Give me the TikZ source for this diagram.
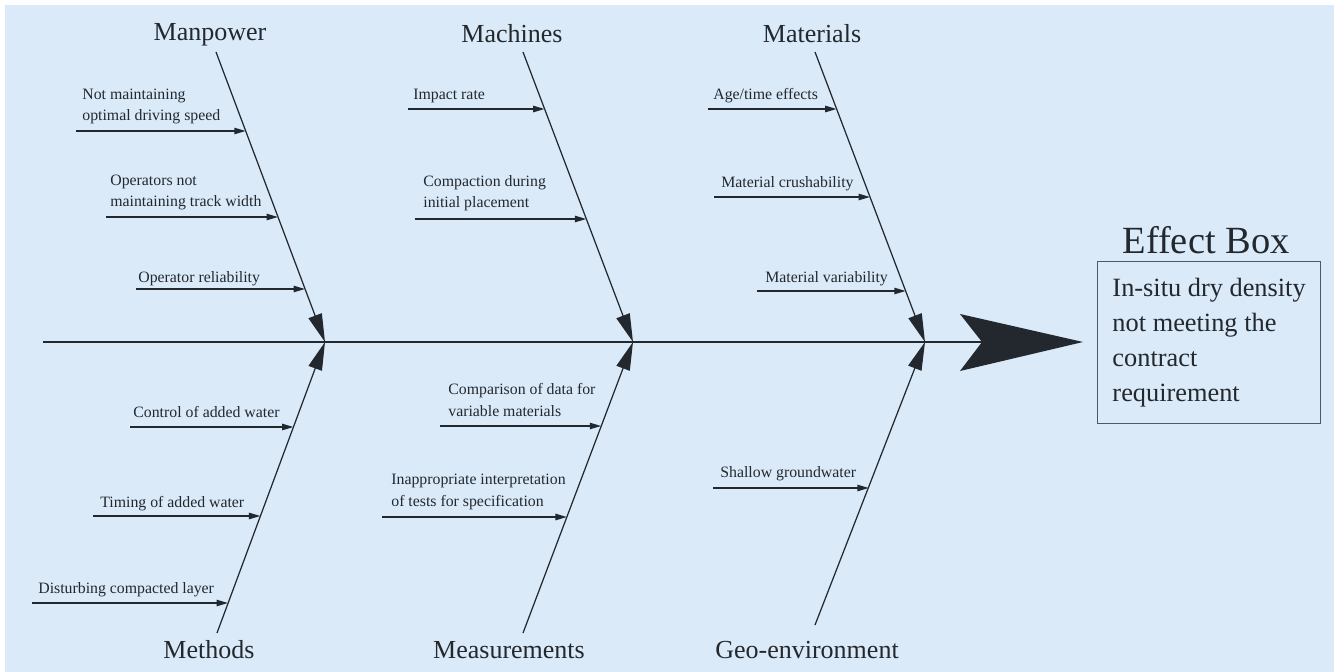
\documentclass[tikz,border=0pt]{standalone}
\usepackage{fontspec}
\setmainfont{Liberation Serif}
\usetikzlibrary{arrows.meta}
\definecolor{bgblue}{RGB}{218,234,248}
\definecolor{ink}{RGB}{35,40,46}
\definecolor{frame}{RGB}{80,88,96}

\begin{document}
\begin{tikzpicture}[x=0.02cm,y=-0.02cm,
  bone/.style={draw=ink, line width=0.7pt, -{Triangle[length=16pt,width=8pt]}},
  cause/.style={draw=ink, line width=0.85pt, -{Triangle[length=6.5pt,width=3.6pt]}},
  spine/.style={draw=ink, line width=0.75pt},
  catlabel/.style={font=\fontsize{14.8}{17}\selectfont, text=ink, anchor=base, inner sep=0pt},
  causetext/.style={font=\fontsize{9}{12}\selectfont, text=ink, anchor=base west, align=left, inner sep=0pt},
]
% canvas
\fill[white] (0,0) rectangle (1334,672);
\fill[bgblue] (5,5) rectangle (1334,672);
\useasboundingbox (0,0) rectangle (1334,672);

% spine and head arrow
\coordinate (spineStart) at (43,342);
\coordinate (notch) at (982,342);
\coordinate (headTop) at (960,314);
\coordinate (headTip) at (1083,342);
\coordinate (headBot) at (960,371);
\draw[spine] (spineStart) -- (notch);
\fill[ink] (headTop) -- (headTip) -- (headBot) -- (notch) -- cycle;

% junctions on the spine
\coordinate (J1) at (325,342);
\coordinate (J2) at (633,342);
\coordinate (J3) at (925,342);

% category bones
\coordinate (mpTop) at (216,52);
\coordinate (maTop) at (523,52);
\coordinate (mtTop) at (815,52);
\coordinate (meBot) at (217,633);
\coordinate (msBot) at (523,633);
\coordinate (geBot) at (815,625);
\draw[bone] (mpTop) -- (J1);
\draw[bone] (meBot) -- (J1);
\draw[bone] (maTop) -- (J2);
\draw[bone] (msBot) -- (J2);
\draw[bone] (mtTop) -- (J3);
\draw[bone] (geBot) -- (J3);

% category labels
\node[catlabel] (manpower) at (210,41) {Manpower};
\node[catlabel] (machines) at (512,43) {Machines};
\node[catlabel] (materials) at (812,43) {Materials};
\node[catlabel] (methods) at (209,658) {Methods};
\node[catlabel] (measurements) at (509,658) {Measurements};
\node[catlabel] (geoenv) at (807,658) {Geo-environment};

% Manpower causes (two-line labels are placed by their last baseline)
\coordinate (mp1s) at (76,131);   \coordinate (mp1e) at (245.7,131);
\coordinate (mp2s) at (106,217);  \coordinate (mp2e) at (278,217);
\coordinate (mp3s) at (136,289);  \coordinate (mp3e) at (305,289);
\draw[cause] (mp1s) -- (mp1e);
\draw[cause] (mp2s) -- (mp2e);
\draw[cause] (mp3s) -- (mp3e);
\node[causetext] (mp1) at (82,121) {Not maintaining\\optimal driving speed};
\node[causetext] (mp2) at (110,207) {Operators not\\maintaining track width};
\node[causetext] (mp3) at (138,282) {Operator reliability};

% Methods causes
\coordinate (me1s) at (130,427);  \coordinate (me1e) at (293.5,427);
\coordinate (me2s) at (93,516);   \coordinate (me2e) at (260.4,516);
\coordinate (me3s) at (32,603);   \coordinate (me3e) at (228,603);
\draw[cause] (me1s) -- (me1e);
\draw[cause] (me2s) -- (me2e);
\draw[cause] (me3s) -- (me3e);
\node[causetext] (me1) at (133,417) {Control of added water};
\node[causetext] (me2) at (100,507) {Timing of added water};
\node[causetext] (me3) at (38,593) {Disturbing compacted layer};

% Machines causes
\coordinate (ma1s) at (408,109);  \coordinate (ma1e) at (544.6,109);
\coordinate (ma2s) at (415,219);  \coordinate (ma2e) at (586.3,219);
\draw[cause] (ma1s) -- (ma1e);
\draw[cause] (ma2s) -- (ma2e);
\node[causetext] (ma1) at (413,100) {Impact rate};
\node[causetext] (ma2) at (423,208) {Compaction during\\initial placement};

% Measurements causes
\coordinate (ms1s) at (440,426);  \coordinate (ms1e) at (601.2,426);
\coordinate (ms2s) at (382,517);  \coordinate (ms2e) at (566.9,517);
\draw[cause] (ms1s) -- (ms1e);
\draw[cause] (ms2s) -- (ms2e);
\node[causetext] (ms1) at (448,416) {Comparison of data for\\variable materials};
\node[causetext] (ms2) at (391,506) {Inappropriate interpretation\\of tests for specification};

% Materials causes
\coordinate (mt1s) at (708,109);  \coordinate (mt1e) at (836.6,109);
\coordinate (mt2s) at (714,197);  \coordinate (mt2e) at (870,197);
\coordinate (mt3s) at (757,291);  \coordinate (mt3e) at (905.7,291);
\draw[cause] (mt1s) -- (mt1e);
\draw[cause] (mt2s) -- (mt2e);
\draw[cause] (mt3s) -- (mt3e);
\node[causetext] (mt1) at (713,100) {Age/time effects};
\node[causetext] (mt2) at (721,188) {Material crushability};
\node[causetext] (mt3) at (765,282) {Material variability};

% Geo-environment cause
\coordinate (ge1s) at (713,488);  \coordinate (ge1e) at (868.8,488);
\draw[cause] (ge1s) -- (ge1e);
\node[causetext] (ge1) at (720,477) {Shallow groundwater};

% effect
\node[font=\fontsize{21.9}{25}\selectfont, text=ink, anchor=base, inner sep=0pt] (efftitle) at (1206,253) {Effect Box};
\node[draw=frame, line width=0.6pt, anchor=north west, minimum width=124.6pt, minimum height=92.2pt,
      inner xsep=8.5pt, align=left, text=ink, font=\fontsize{15}{19.8}\selectfont] (effect) at (1097,261)
  {In-situ dry density\\not meeting the\\contract\\requirement};
\end{tikzpicture}
\end{document}
